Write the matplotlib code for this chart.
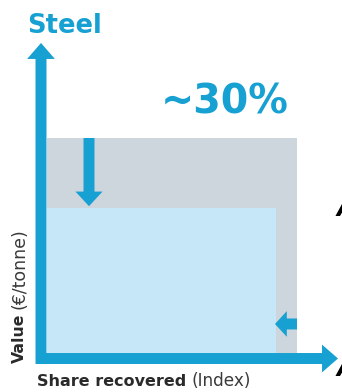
import matplotlib
matplotlib.use("Agg")
import matplotlib.pyplot as plt
from matplotlib.patches import FancyArrowPatch

# ---- data (index units, full = 100) ----
title = "Steel"
x_label_bold = "Share recovered"
x_label_reg = "(Index)"
y_label_bold = "Value"
y_label_reg = "(€/tonne)"
change_label = "~30%"
full_share, full_value = 100, 100
reduced_share, reduced_value = 91.5, 67.5

BLUE = "#17a0d2"
GREY = "#cdd5dd"
LIGHT = "#c5e7f8"

fig = plt.figure(figsize=(3.42, 3.92), dpi=100)
ax = fig.add_axes([0, 0, 1, 1])
ax.set_xlim(-18.8, 118.0)
ax.set_ylim(-18.14, 164.19)
ax.axis("off")

# bars (full and reduced)
ax.bar(0, full_value, width=full_share, align="edge", color=GREY, zorder=1)
ax.bar(0, reduced_value, width=reduced_share, align="edge", color=LIGHT, zorder=2)


def arrow(p0, p1, tail, hw, hl):
    a = FancyArrowPatch(p0, p1,
                        arrowstyle=f"simple,head_length={hl},head_width={hw},tail_width={tail}",
                        mutation_scale=1, shrinkA=0, shrinkB=0,
                        color=BLUE, lw=0, zorder=5)
    ax.add_patch(a)


# axes arrows
arrow((-2.4, -5.1), (-2.4, 144.2), 7.9, 20.0, 11.5)
arrow((-4.4, -2.56), (116.4, -2.56), 7.9, 20.0, 11.5)

# change arrows
arrow((16.8, full_value), (16.8, reduced_value + 0.8), 7.9, 19.5, 10.5)
arrow((full_share, 13.5), (reduced_share - 0.3, 13.5), 7.9, 18.5, 8.5)

# texts
ax.text(-8.0, 148.8, title, color=BLUE, fontsize=18.5, fontweight="bold",
        ha="left", va="baseline")
ax.text(71.0, 116.5, change_label, color=BLUE, fontsize=28.5, fontweight="bold",
        ha="center", va="center")

tx = ax.text(-4.0, -15.35, x_label_bold, color="#2a2a2a", fontsize=11.5,
             fontweight="bold", ha="left", va="baseline")
ax.annotate(x_label_reg, xy=(1.0, -15.35), xycoords=(tx, "data"),
            xytext=(3.5, 0), textcoords="offset points",
            color="#3a3a3a", fontsize=12.2, ha="left", va="baseline")

ty = ax.text(-9.2, -4.65, y_label_bold, color="#2a2a2a", fontsize=11.3,
             fontweight="bold", rotation=90, rotation_mode="anchor",
             ha="left", va="baseline")
ax.annotate(y_label_reg, xy=(-9.2, 1.0), xycoords=("data", ty),
            xytext=(0, 3.5), textcoords="offset points",
            color="#3a3a3a", fontsize=12.5, rotation=90, rotation_mode="anchor",
            ha="left", va="baseline")

# fragments of neighbouring panel at the right edge
ax.text(115.8, 67.0, "A", color="black", fontsize=17, fontweight="bold",
        fontstyle="italic", ha="left", va="center", clip_on=False)
ax.text(115.8, -7.5, "A", color="black", fontsize=17, fontweight="bold",
        fontstyle="italic", ha="left", va="center", clip_on=False)

fig.savefig("out.png", dpi=100)
